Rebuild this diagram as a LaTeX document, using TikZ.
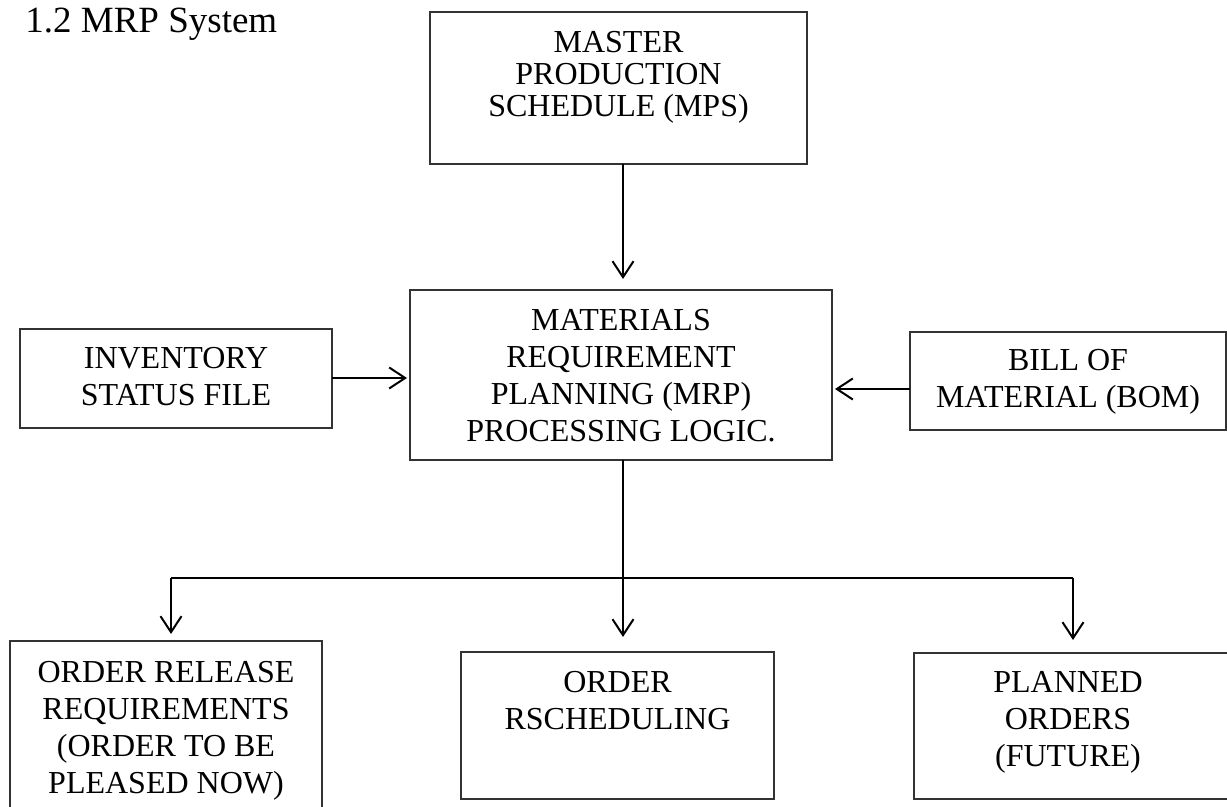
\documentclass[tikz,border=0pt]{standalone}
\usepackage{fontspec}
\setmainfont{Liberation Serif}
\usetikzlibrary{arrows.meta}

\begin{document}
\begin{tikzpicture}[x=0.5pt,y=-0.5pt,
  box/.style={draw=black!80, line width=0.6pt, inner sep=0pt, outer sep=0pt,
              anchor=north west},
  boxtext/.style={anchor=north, align=center, inner sep=0pt,
              font={\fontsize{16}{18.5}\selectfont}},
  link/.style={draw=black, line width=1pt},
  flow/.style={link, -{Straight Barb[length=8pt,width=10.5pt]}}]

\useasboundingbox (0,0) rectangle (1227,807);
\clip (0,0) rectangle (1227,807);

% heading
\node[anchor=base west, inner sep=0pt, font={\fontsize{18.5}{22}\selectfont}]
  (title) at (25,33) {1.2 MRP System};

% frames
\node[box, minimum width=188.5pt, minimum height=76pt]   (mps)   at (430,12)  {};
\node[box, minimum width=156pt,   minimum height=49.5pt] (inv)   at (20,329)  {};
\node[box, minimum width=211pt,   minimum height=85pt]   (mrp)   at (410,290) {};
\node[box, minimum width=158pt,   minimum height=49pt]   (bom)   at (910,332) {};
\node[box, minimum width=156pt,   minimum height=100pt]  (rel)   at (10,641)  {};
\node[box, minimum width=156.5pt, minimum height=73.5pt] (resch) at (461,652) {};
\node[box, minimum width=160pt,   minimum height=73pt]   (plan)  at (914,653) {};

% labels inside the frames
\node[boxtext, font={\fontsize{16}{16}\selectfont}] (mpsT) at (618.5,31)
  {MASTER\\PRODUCTION\\SCHEDULE (MPS)};
\node[boxtext] (invT)   at (176,347)  {INVENTORY\\STATUS FILE};
\node[boxtext] (mrpT)   at (621,309)  {MATERIALS\\REQUIREMENT\\PLANNING (MRP)\\PROCESSING LOGIC.};
\node[boxtext] (bomT)   at (1068,349) {BILL OF\\MATERIAL (BOM)};
\node[boxtext] (relT)   at (166,661)  {ORDER RELEASE\\REQUIREMENTS\\(ORDER TO BE\\PLEASED NOW)};
\node[boxtext] (reschT) at (617.5,671) {ORDER\\RSCHEDULING};
\node[boxtext] (planT)  at (1068,671) {PLANNED\\ORDERS\\(FUTURE)};

% inputs to the MRP logic
\draw[flow, shorten >=5.5pt] (mps.south -| 623,0) -- (mrp.north -| 623,0);
\draw[flow, shorten >=1.5pt] (inv.east |- 0,378) -- (mrp.west |- 0,378);
\draw[flow, shorten >=1.5pt] (bom.west |- 0,389) -- (mrp.east |- 0,389);

% outputs
\coordinate (busL) at (171,578);
\coordinate (busR) at (1073,578);
\draw[flow, shorten >=7.5pt] (mrp.south -| 623,0) -- (resch.north -| 623,0);
\draw[link] (busL) -- (busR);
\draw[flow, shorten >=3.5pt] (busL) -- (rel.north -| busL);
\draw[flow, shorten >=6.5pt] (busR) -- (plan.north -| busR);
\end{tikzpicture}
\end{document}
